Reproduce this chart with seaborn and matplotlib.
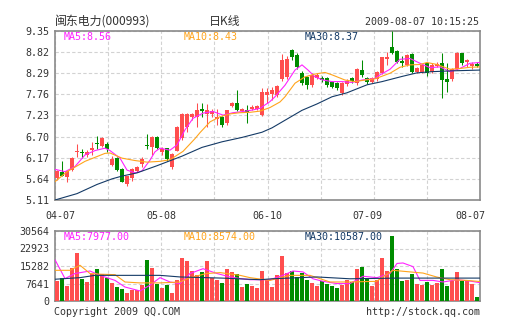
import numpy as np
import pandas as pd
import matplotlib
matplotlib.use("Agg")
import matplotlib.pyplot as plt
import seaborn as sns

# ---------------- data ----------------
opens = [5.66, 5.80, 5.69, 5.86, 6.32, 6.31, 6.24, 6.37, 6.55, 6.47,
         6.51, 5.98, 6.17, 5.89, 5.52, 5.65, 5.85, 6.02, 6.50, 6.45,
         6.70, 6.31, 6.41, 5.94, 6.35, 6.66, 6.95, 7.18, 7.20, 7.39,
         7.27, 7.28, 7.13, 7.20, 7.03, 7.48, 7.54, 7.35, 7.38, 7.39,
         7.40, 7.24, 7.74, 7.76, 7.74, 8.14, 8.20, 8.87, 8.75, 8.30,
         8.20, 7.99, 8.18, 8.18, 8.16, 8.07, 8.05, 7.79, 8.02, 8.16,
         8.04, 8.37, 8.17, 8.07, 8.14, 8.29, 8.64, 8.94, 8.86, 8.60,
         8.50, 8.77, 8.33, 8.33, 8.54, 8.33, 8.46, 8.54, 8.14, 8.14,
         8.39, 8.79, 8.56, 8.46, 8.51]
highs = [5.87, 6.10, 5.86, 6.18, 6.51, 6.39, 6.37, 6.57, 6.72, 6.70,
         6.56, 6.22, 6.18, 5.92, 5.72, 5.92, 5.97, 6.20, 6.76, 6.71,
         6.72, 6.45, 6.42, 6.29, 6.97, 7.30, 7.30, 7.30, 7.54, 7.55,
         7.52, 7.40, 7.40, 7.22, 7.38, 7.57, 7.87, 7.43, 7.50, 7.50,
         7.50, 7.91, 7.93, 7.95, 8.00, 8.77, 8.72, 8.90, 8.80, 8.35,
         8.22, 8.30, 8.30, 8.22, 8.20, 8.10, 8.08, 8.08, 8.14, 8.20,
         8.42, 8.62, 8.20, 8.20, 8.35, 8.70, 8.83, 9.35, 8.88, 8.73,
         8.78, 8.80, 8.44, 8.53, 8.58, 8.55, 8.56, 8.79, 8.54, 8.41,
         8.83, 8.81, 8.66, 8.58, 8.56]
lows = [5.60, 5.70, 5.57, 5.84, 6.20, 6.16, 6.19, 6.24, 6.38, 6.45,
        6.32, 5.96, 5.85, 5.55, 5.45, 5.58, 5.80, 5.95, 6.40, 6.23,
        6.38, 6.23, 6.10, 5.90, 6.33, 6.62, 6.82, 7.12, 6.95, 7.18,
        6.95, 7.20, 7.00, 6.95, 7.00, 7.45, 7.35, 7.32, 7.05, 7.37,
        7.36, 7.22, 7.55, 7.62, 7.70, 8.10, 8.15, 8.62, 8.40, 8.00,
        7.90, 7.95, 8.15, 8.08, 7.95, 7.92, 7.88, 7.74, 7.98, 8.05,
        8.00, 8.20, 8.02, 8.05, 8.10, 8.27, 8.50, 8.77, 8.55, 8.45,
        8.47, 8.30, 8.30, 8.30, 8.23, 8.30, 8.44, 7.66, 7.83, 8.10,
        8.37, 8.50, 8.45, 8.40, 8.44]
closes = [5.85, 5.71, 5.84, 6.17, 6.35, 6.28, 6.32, 6.42, 6.51, 6.67,
          6.38, 6.13, 5.87, 5.55, 5.70, 5.88, 5.93, 6.13, 6.47, 6.68,
          6.41, 6.39, 6.13, 6.26, 6.95, 7.27, 7.27, 7.26, 7.37, 7.35,
          7.37, 7.35, 7.20, 6.98, 7.37, 7.54, 7.37, 7.40, 7.32, 7.45,
          7.46, 7.81, 7.83, 7.86, 7.97, 8.62, 8.65, 8.71, 8.45, 8.04,
          7.99, 8.24, 8.25, 8.12, 7.99, 7.95, 7.91, 8.05, 8.10, 8.10,
          8.39, 8.25, 8.06, 8.17, 8.33, 8.69, 8.71, 8.79, 8.58, 8.55,
          8.75, 8.33, 8.41, 8.50, 8.29, 8.50, 8.52, 8.12, 8.08, 8.39,
          8.79, 8.54, 8.61, 8.52, 8.46]
volumes = [8600, 10200, 6400, 14400, 21000, 9500, 8300, 12000, 14150, 12000,
           10000, 7900, 6100, 5100, 3500, 4700, 4900, 6900, 17800, 14400,
           7600, 5700, 6900, 3500, 9000, 18800, 17300, 13100, 11200, 12700,
           17300, 10200, 9000, 7900, 13800, 12700, 12000, 6100, 7300, 6400,
           5700, 13100, 9000, 6100, 11200, 19500, 12400, 12900, 10400, 12400,
           9000, 7900, 6600, 8600, 7600, 6700, 5700, 7200, 9300, 8300,
           13800, 14800, 9700, 6400, 9000, 18800, 12900, 28400, 13800, 8600,
           9300, 11700, 7300, 6900, 8300, 6900, 7900, 13800, 6600, 8600,
           12500, 8600, 9000, 7500, 1800]

# price moving averages (by candle position)
ma5_pos = [-0.4, 1.6, 3.6, 5.6, 7.6, 9.6, 10.6, 12.6, 14, 15.6, 17, 18.6, 19.6,
           20.6, 22.6, 24, 25.6, 27.2, 29.2, 31.2, 33.2, 35.2, 37.2, 39.2, 40.6,
           42.6, 43.6, 45.6, 47.6, 49, 50.2, 51.6, 53.2, 55, 57, 59, 61, 63.6,
           64.6, 66.6, 68.6, 70.6, 72.6, 74.6, 76.6, 78.6, 80.6, 82.6, 84.6]
ma5_val = [5.88, 5.82, 5.95, 6.24, 6.35, 6.41, 6.35, 6.16, 5.86, 5.79, 5.84, 6.11, 6.32,
           6.41, 6.36, 6.49, 6.87, 7.16, 7.29, 7.33, 7.24, 7.30, 7.33, 7.37, 7.41,
           7.58, 7.70, 7.99, 8.37, 8.50, 8.37, 8.20, 8.12, 8.08, 8.08, 8.06, 8.12, 8.16,
           8.25, 8.39, 8.64, 8.66, 8.54, 8.43, 8.45, 8.33, 8.41, 8.54, 8.56]
ma10_pos = [-0.4, 2, 5.6, 9.6, 10.6, 13, 15.6, 18, 20.6, 22.6, 25.2, 27.6, 28.6,
            30.6, 32.6, 34.6, 36.6, 38.6, 40.6, 42.6, 44.6, 45.6, 47.6, 49.6, 51.6,
            53.6, 55, 57.6, 59.6, 61.6, 63.6, 66.6, 68.6, 70.6, 72.6, 74, 76, 78.6,
            80.6, 82.6, 84.6]
ma10_val = [5.57, 5.82, 6.08, 6.28, 6.29, 6.16, 6.10, 6.06, 6.08, 6.12, 6.33, 6.65, 6.80,
            7.07, 7.20, 7.27, 7.30, 7.31, 7.34, 7.43, 7.57, 7.70, 8.04, 8.20, 8.27,
            8.31, 8.25, 8.12, 8.08, 8.12, 8.15, 8.29, 8.44, 8.50, 8.51, 8.56, 8.51, 8.39,
            8.41, 8.44, 8.45]
ma30_pos = [-0.4, 4, 8, 11, 13, 16, 20, 25, 29, 33, 37, 41, 43, 46, 49, 52, 55, 58,
            62, 65, 69, 72, 75, 79, 84.6]
ma30_val = [5.11, 5.27, 5.50, 5.64, 5.71, 5.79, 5.97, 6.21, 6.43, 6.57, 6.68, 6.81,
            6.92, 7.14, 7.36, 7.52, 7.70, 7.80, 8.00, 8.08, 8.21, 8.30, 8.33, 8.35, 8.37]

# volume moving averages
vma5_pos = [-0.4, 1.6, 3.6, 6.6, 8.6, 11.6, 13.6, 16.6, 18.6, 20.6, 22.6, 24.6, 26.6,
            29.2, 32, 34.6, 36.6, 38.6, 42.6, 45.2, 47.2, 49.2, 51.2, 53.2, 56, 58.6,
            61.2, 64, 66.6, 68, 69.2, 71.2, 72.6, 75.2, 77.2, 80, 82.6, 84.6]
vma5_val = [18000, 9800, 12000, 13100, 11200, 9000, 6100, 4400, 6900, 10200, 8300, 7600,
            12000, 14100, 12000, 10500, 9800, 9300, 9300, 11200, 13100, 12700, 9700,
            8600, 7600, 7600, 10800, 10200, 12000, 16400, 16600, 15000, 9000, 9000, 8300,
            9300, 8700, 8000]
vma10_pos = [-0.4, 2.6, 4.6, 6.6, 8.6, 11.6, 13.6, 16.6, 20.6, 24.6, 26.6, 29.9, 32.6,
             36.6, 38.6, 42.6, 46.6, 50.6, 54.6, 58.6, 63.9, 67.2, 70.6, 73.2, 75.9,
             78.6, 81.9, 84.6]
vma10_val = [13400, 13400, 15600, 12000, 11700, 11500, 8300, 7900, 7900, 8300, 10200,
             12000, 12400, 11200, 10200, 9000, 11200, 11200, 8300, 8300, 8600, 13400,
             12700, 12200, 10500, 9300, 9000, 8500]
vma30_pos = [-0.4, 4.6, 7.6, 20.6, 24.6, 33, 40.6, 43, 52, 58.6, 68, 80, 84.6]
vma30_val = [9500, 10200, 11200, 11200, 10500, 10000, 9300, 9700, 10500, 9700, 10000,
             10000, 10000]

price_ticks = [5.11, 5.64, 6.17, 6.70, 7.23, 7.76, 8.29, 8.82, 9.35]
vol_ticks = [0, 7641, 15282, 22923, 30564]
date_labels = ["04-07", "05-08", "06-10", "07-09", "08-07"]
date_label_pos = [0.6, 20.8, 42, 62, 82.6]

title_text = "闽东电力(000993)"
kline_text = "日K线"
time_text = "2009-08-07 10:15:25"
price_ma_labels = ["MA5:8.56", "MA10:8.43", "MA30:8.37"]
vol_ma_labels = ["MA5:7977.00", "MA10:8574.00", "MA30:10587.00"]
footer_left = "Copyright 2009 QQ.COM"
footer_right = "http://stock.qq.com"

# ---------------- style ----------------
RED = "#ff4e4e"
GREEN = "#008c00"
MAG = "#ff22ff"
ORANGE = "#ffa41c"
NAVY = "#143a66"
GRID = "#d2d2d2"
FRAME = "#8a8a8a"
TXT = "#333333"

sns.set_style("white")
plt.rcParams["font.family"] = ["DejaVu Sans Mono", "Noto Sans CJK SC"]
MONO = ["DejaVu Sans Mono"]
CJK = ["Noto Sans CJK SC", "DejaVu Sans"]
FS = 7.2
LW = 0.8

W, H = 505, 330
fig = plt.figure(figsize=(W / 100, H / 100), dpi=100)
fig.patch.set_facecolor("white")

ax = fig.add_axes([55 / W, 1 - 200 / H, 425 / W, 169 / H])
axv = fig.add_axes([55 / W, 1 - 301 / H, 425 / W, 70 / H])

n = len(closes)
idx = np.arange(n)
o = np.array(opens); c = np.array(closes); hi = np.array(highs); lo = np.array(lows)
up = c >= o
colors = np.where(up, RED, GREEN)

df = pd.DataFrame({"i": idx, "open": o, "close": c, "high": hi, "low": lo,
                   "vol": volumes, "dir": np.where(up, "up", "down")})

XMIN, XMAX = -0.4, 84.6
grid_x = np.linspace(XMIN, XMAX, 9)

# ---- candles ----
ax.vlines(df["i"], df["low"], df["high"], colors=colors, lw=0.75, zorder=3)
body_bottom = np.minimum(o, c)
body_h = np.maximum(np.abs(c - o), 0.025)
ax.bar(df["i"], body_h, bottom=body_bottom, width=0.8, color=colors,
       linewidth=0, zorder=4)

for pos, val, col in [(ma5_pos, ma5_val, MAG), (ma10_pos, ma10_val, ORANGE),
                      (ma30_pos, ma30_val, NAVY)]:
    sns.lineplot(x=pos, y=val, ax=ax, color=col, lw=LW, zorder=5,
                 errorbar=None, sort=False)

ax.set_xlim(XMIN, XMAX)
ax.set_ylim(price_ticks[0], price_ticks[-1])
ax.set_yticks(price_ticks)
ax.set_yticklabels([f"{v:.2f}" for v in price_ticks], family=MONO, fontsize=FS, color=TXT)
ax.set_xticks(grid_x)
ax.set_xticklabels([])
ax.set_xticks(date_label_pos, minor=True)
ax.set_xticklabels(date_labels, minor=True, family=MONO, fontsize=FS, color=TXT)
ax.tick_params(axis="both", which="both", length=0)
ax.tick_params(axis="y", pad=4)
ax.tick_params(axis="x", which="minor", pad=8)
ax.grid(True, which="major", color=GRID, ls=(0, (3, 2)), lw=0.8, zorder=0)
ax.set_axisbelow(True)

# ---- volume ----
sns.barplot(data=df, x="i", y="vol", hue="dir", palette={"up": RED, "down": GREEN},
            native_scale=True, width=0.8, dodge=False, saturation=1, legend=False,
            ax=axv, linewidth=0, zorder=3)
for pos, val, col in [(vma5_pos, vma5_val, MAG), (vma10_pos, vma10_val, ORANGE),
                      (vma30_pos, vma30_val, NAVY)]:
    sns.lineplot(x=pos, y=val, ax=axv, color=col, lw=LW, zorder=5,
                 errorbar=None, sort=False)

axv.set_xlim(XMIN, XMAX)
axv.set_ylim(vol_ticks[0], vol_ticks[-1])
axv.set_yticks(vol_ticks)
axv.set_yticklabels([str(v) for v in vol_ticks], family=MONO, fontsize=FS, color=TXT)
axv.set_xticks(grid_x)
axv.set_xticklabels([])
axv.tick_params(axis="both", which="both", length=0)
axv.tick_params(axis="y", pad=4)
axv.grid(True, which="major", color=GRID, ls=(0, (3, 2)), lw=0.8, zorder=0)
axv.set_axisbelow(True)

for a in (ax, axv):
    a.set_xlabel("")
    a.set_ylabel("")
    a.set_facecolor("white")
    for s in a.spines.values():
        s.set_visible(True)
        s.set_color(FRAME)
        s.set_linewidth(1.2)

# ---- texts ----
def ftext(x, y, s, **kw):
    fig.text(x / W, 1 - y / H, s, va="center", **kw)

ftext(55, 21.5, title_text, ha="left", family=CJK, fontsize=8.6, color=TXT)
ftext(225, 21.5, kline_text, ha="center", family=CJK, fontsize=8.6, color=TXT)
ftext(479, 22, time_text, ha="right", family=MONO, fontsize=FS, color=TXT)

for xpos, s, col in zip([64, 184, 305], price_ma_labels, [MAG, ORANGE, NAVY]):
    ftext(xpos, 37, s, ha="left", family=MONO, fontsize=FS, color=col)
for xpos, s, col in zip([64, 184, 305], vol_ma_labels, [MAG, ORANGE, NAVY]):
    ftext(xpos, 237, s, ha="left", family=MONO, fontsize=FS, color=col)

ftext(54, 312, footer_left, ha="left", family=MONO, fontsize=FS, color=TXT)
ftext(480, 312, footer_right, ha="right", family=MONO, fontsize=FS, color=TXT)

fig.savefig("out.png", dpi=100, facecolor="white")
